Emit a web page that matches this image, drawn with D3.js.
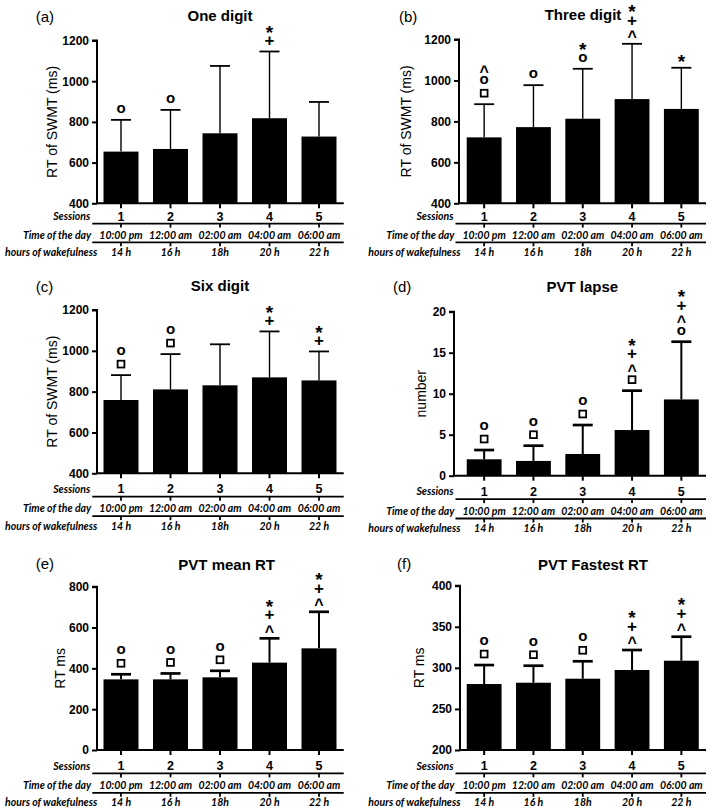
<!DOCTYPE html>
<html><head><meta charset="utf-8">
<script src="https://cdn.jsdelivr.net/npm/d3@7"></script>
<style>
body{margin:0;background:#fff}
text{font-family:"Liberation Sans",Arial,sans-serif;fill:#000}
.row{font-family:Lato,"Open Sans",sans-serif;font-weight:bold;font-style:italic;font-size:10.5px}
</style>
</head><body><svg id="chart" width="709" height="810"></svg>
<script>
// ---------- data ----------
const sessions = ["1", "2", "3", "4", "5"];
const timeOfDay = ["10:00 pm", "12:00 am", "02:00 am", "04:00 am", "06:00 am"];
const wakefulness = ["14 h", "16 h", "18h", "20 h", "22 h"];
const rowNames = ["Sessions", "Time of the day", "hours of wakefulness"];

const panelTags = ["(a)", "(b)", "(c)", "(d)", "(e)", "(f)"];
const panelTitles = ["One digit", "Three digit", "Six digit", "PVT lapse", "PVT mean RT", "PVT Fastest RT"];
const yAxisLabels = ["RT of SWMT (ms)", "RT of SWMT (ms)", "RT of SWMT (ms)", "number", "RT ms", "RT ms"];

const oneDigitMean = [654, 667, 744, 818, 728];
const oneDigitSD = [156, 192, 331, 328, 170];
const oneDigitMarks = [["o"], ["o"], [], ["+", "*"], []];

const threeDigitMean = [722, 772, 813, 909, 861];
const threeDigitSD = [162, 205, 244, 270, 201];
const threeDigitMarks = [["□", "o", "^"], ["o"], ["o", "*"], ["^", "+", "*"], ["*"]];

const sixDigitMean = [759, 811, 831, 870, 855];
const sixDigitSD = [122, 173, 201, 225, 142];
const sixDigitMarks = [["□", "o"], ["□", "o"], [], ["+", "*"], ["+", "*"]];

const lapseMean = [2.0, 1.8, 2.65, 5.57, 9.3];
const lapseSD = [1.13, 1.86, 3.53, 4.8, 7.04];
const lapseMarks = [["□", "o"], ["□", "o"], ["□", "o"], ["□", "^", "+", "*"], ["o", "^", "+", "*"]];

const meanRTMean = [346, 346, 356, 428, 498];
const meanRTSD = [25, 29, 32, 119, 179];
const meanRTMarks = [["□", "o"], ["□", "o"], ["□", "o"], ["^", "+", "*"], ["^", "+", "*"]];

const fastRTMean = [280.3, 281.9, 286.8, 297.4, 308.7];
const fastRTSD = [23.1, 20.7, 21.2, 24.3, 29.2];
const fastRTMarks = [["□", "o"], ["□", "o"], ["□", "o"], ["^", "+", "*"], ["^", "+", "*"]];

const ticksSWMT = [400, 600, 800, 1000, 1200];
const ticksLapse = [0, 5, 10, 15, 20];
const ticksMeanRT = [0, 200, 400, 600, 800];
const ticksFastRT = [200, 250, 300, 350, 400];

const means = [oneDigitMean, threeDigitMean, sixDigitMean, lapseMean, meanRTMean, fastRTMean];
const sds = [oneDigitSD, threeDigitSD, sixDigitSD, lapseSD, meanRTSD, fastRTSD];
const marks = [oneDigitMarks, threeDigitMarks, sixDigitMarks, lapseMarks, meanRTMarks, fastRTMarks];
const ticks = [ticksSWMT, ticksSWMT, ticksSWMT, ticksLapse, ticksMeanRT, ticksFastRT];

// ---------- layout ----------
const colX = [[96.25, 343.75], [459.5, 706]];
const rowsTop = [17.4, 20.3, 35.2, 39, 52.6];
const rowsLow = [20, 23.4, 38.8, 42.8, 56.4];
const layout = [
  {col: 0, axisX: 97,  yTop: 40.5,  yBot: 203.3, titleX: 220,   titleY: 20.7,  tagX: 35.7, tagY: 21.7,  ylabX: 57,    rows: rowsTop, heavy: false},
  {col: 1, axisX: 459, yTop: 39.5,  yBot: 203.3, titleX: 583,   titleY: 20.2,  tagX: 399,  tagY: 22,    ylabX: 411,   rows: rowsTop, heavy: false},
  {col: 0, axisX: 97,  yTop: 310,   yBot: 473.3, titleX: 220,   titleY: 290.7, tagX: 35.7, tagY: 291.7, ylabX: 57.3,  rows: rowsLow, heavy: false},
  {col: 1, axisX: 454, yTop: 311.7, yBot: 475.7, titleX: 582.3, titleY: 291.7, tagX: 393,  tagY: 291.7, ylabX: 425.7, rows: rowsLow, heavy: true},
  {col: 0, axisX: 97,  yTop: 586.7, yBot: 750,   titleX: 226.7, titleY: 570,   tagX: 35.7, tagY: 569.3, ylabX: 65,    rows: rowsLow, heavy: true},
  {col: 1, axisX: 460, yTop: 585.7, yBot: 750,   titleX: 593,   titleY: 570,   tagX: 397,  tagY: 569.3, ylabX: 424,   rows: rowsLow, heavy: true}
];

// glyph styling for significance marks: font size and baseline offset from visual centre
const markStyle = {
  "o": {size: 15, dy: 4.1},
  "+": {size: 17, dy: 5.8},
  "*": {size: 19, dy: 11.2},
  "^": {size: 16, dy: 9.4}
};

const svg = d3.select("#chart");
svg.append("rect").attr("width", 709).attr("height", 810).attr("fill", "#fff");

layout.forEach((L, p) => {
  const g = svg.append("g");
  const [x0, x1] = colX[L.col];
  const tk = ticks[p];
  const x = d3.scaleBand().domain(sessions).range([x0, x1]).paddingInner(0.293).paddingOuter(0.1465);
  const y = d3.scaleLinear().domain([tk[0], tk[tk.length - 1]]).range([L.yBot, L.yTop]);

  // bars
  g.selectAll(".bar").data(sessions).join("rect")
    .attr("x", d => x(d)).attr("width", x.bandwidth())
    .attr("y", (d, i) => y(means[p][i]))
    .attr("height", (d, i) => L.yBot - y(means[p][i]))
    .attr("fill", "#000");

  // error bars
  const ew = L.heavy ? 2 : 1.4, cw = L.heavy ? 2.7 : 1.8;
  sessions.forEach((d, i) => {
    const cx = x(d) + x.bandwidth() / 2;
    const top = y(means[p][i] + sds[p][i]);
    g.append("line").attr("x1", cx).attr("x2", cx).attr("y1", y(means[p][i])).attr("y2", top)
      .attr("stroke", "#000").attr("stroke-width", ew);
    g.append("line").attr("x1", cx - 10).attr("x2", cx + 10).attr("y1", top).attr("y2", top)
      .attr("stroke", "#000").attr("stroke-width", cw);
    // significance marks stacked above cap
    marks[p][i].forEach((m, k) => {
      const cy = top - 11 - k * 13;
      if (m === "□") {
        g.append("rect").attr("x", cx - 3.4).attr("y", cy - 3.4).attr("width", 6.8).attr("height", 6.8)
          .attr("fill", "none").attr("stroke", "#000").attr("stroke-width", 1.8);
      } else {
        const s = markStyle[m];
        g.append("text").attr("x", cx).attr("y", cy + s.dy).attr("text-anchor", "middle")
          .attr("font-size", s.size).attr("font-weight", "bold").text(m);
      }
    });
  });

  // y axis
  const yAxis = d3.axisLeft(y).tickValues(tk).tickSize(5).tickPadding(3).tickFormat(d3.format("d"));
  const ya = g.append("g").attr("transform", `translate(${L.axisX},0)`).call(yAxis);
  ya.select(".domain").attr("stroke-width", 2).attr("d", `M-5,${L.yTop}H0V${L.yBot}`);
  ya.selectAll(".tick line").attr("stroke-width", 2);
  ya.selectAll(".tick text").attr("font-size", 12).attr("font-weight", "bold")
    .attr("font-family", "Liberation Sans, Arial, sans-serif").attr("fill", "#000");

  // x axis
  const xAxis = d3.axisBottom(x).tickSize(5).tickFormat("");
  const xa = g.append("g").attr("transform", `translate(0,${L.yBot})`).call(xAxis);
  xa.select(".domain").attr("stroke-width", 2).attr("d", `M${L.axisX},0H${x1}`);
  xa.selectAll(".tick line").attr("stroke-width", 2);

  // category rows
  const r = L.rows;
  const lineStart = x0 - 4;
  [r[1], r[3]].forEach(off => {
    const ly = L.yBot + off;
    g.append("line").attr("x1", lineStart).attr("x2", x1).attr("y1", ly).attr("y2", ly)
      .attr("stroke", "#000").attr("stroke-width", 1.8);
    sessions.forEach(d => {
      const cx = x(d) + x.bandwidth() / 2;
      g.append("line").attr("x1", cx).attr("x2", cx).attr("y1", ly).attr("y2", ly + 4)
        .attr("stroke", "#000").attr("stroke-width", 1.8);
    });
  });
  // session numbers
  sessions.forEach(d => {
    g.append("text").attr("x", x(d) + x.bandwidth() / 2).attr("y", L.yBot + r[0]).attr("text-anchor", "middle")
      .attr("font-size", 12.5).attr("font-weight", "bold").text(d);
  });
  sessions.forEach((d, i) => {
    g.append("text").attr("class", "row").attr("x", x(d) + x.bandwidth() / 2).attr("y", L.yBot + r[2])
      .attr("text-anchor", "middle").text(timeOfDay[i]);
    g.append("text").attr("class", "row").attr("x", x(d) + x.bandwidth() / 2).attr("y", L.yBot + r[4])
      .attr("text-anchor", "middle").text(wakefulness[i]);
  });
  g.append("text").attr("class", "row").attr("x", x0 - 6).attr("y", L.yBot + r[0] - 0.5).attr("text-anchor", "end").text(rowNames[0]);
  g.append("text").attr("class", "row").attr("x", x0 - 5).attr("y", L.yBot + r[2]).attr("text-anchor", "end").text(rowNames[1]);
  g.append("text").attr("class", "row").attr("x", x0 + 1).attr("y", L.yBot + r[4]).attr("text-anchor", "end").text(rowNames[2]);

  // y label
  const ymid = (L.yTop + L.yBot) / 2;
  g.append("text").attr("transform", `translate(${L.ylabX},${ymid}) rotate(-90)`).attr("text-anchor", "middle")
    .attr("font-size", 14).text(yAxisLabels[p]);

  // title and tag
  g.append("text").attr("x", L.titleX).attr("y", L.titleY).attr("text-anchor", "middle")
    .attr("font-size", 15).attr("font-weight", "bold").text(panelTitles[p]);
  g.append("text").attr("x", L.tagX).attr("y", L.tagY).attr("font-size", 15).text(panelTags[p]);
});
</script>
</body></html>
